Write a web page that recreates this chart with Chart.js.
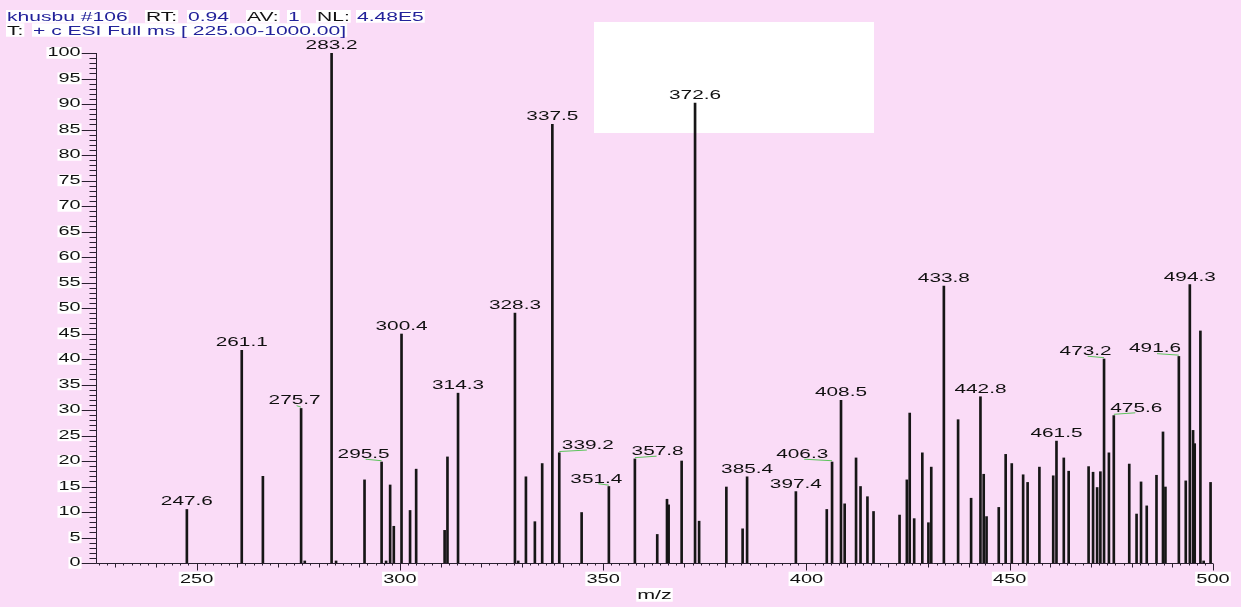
<!DOCTYPE html>
<html>
<head>
<meta charset="utf-8">
<script src="https://cdn.jsdelivr.net/npm/chart.js@4.4.1/dist/chart.umd.min.js"></script>
<style>
  html, body { margin: 0; padding: 0; background: #fadcf7; }
  #wrap { width: 1241px; height: 607px; }
</style>
</head>
<body>
<div id="wrap"><canvas id="c" width="1241" height="607"></canvas></div>
<script>
// ---- data ----
const mzValues = [
  247.6, 261.1, 266.3, 275.7, 276.6, 283.2, 284.3, 291.3, 295.5, 296.6,
  297.6, 298.5, 300.4, 302.5, 304.0, 311.0, 311.7, 314.3, 328.3, 329.1,
  331.0, 333.2, 335.0, 337.5, 339.2, 344.7, 351.4, 357.8, 363.3, 365.7,
  366.1, 369.3, 372.6, 373.6, 380.3, 384.3, 385.4, 397.4, 405.0, 406.3,
  408.5, 409.4, 412.2, 413.3, 415.0, 416.5, 422.9, 424.7, 425.4, 426.5,
  428.5, 430.0, 430.7, 433.8, 437.3, 440.5, 442.8, 443.6, 444.3, 447.3,
  449.0, 450.5, 453.3, 454.4, 457.3, 460.7, 461.5, 463.3, 464.5, 469.4,
  470.5, 471.5, 472.3, 473.2, 474.4, 475.6, 479.4, 481.2, 482.3, 483.7,
  486.1, 487.7, 488.3, 491.6, 493.3, 494.3, 495.1, 495.5, 496.9, 497.7,
  499.4
];
const intensities = [
  10.5, 41.7, 17.0, 30.3, 0.4, 100, 0.4, 16.3, 19.8, 0.4,
  15.3, 7.2, 44.9, 10.3, 18.4, 6.4, 20.8, 33.3, 49.0, 0.4,
  16.9, 8.1, 19.5, 86.0, 21.6, 9.9, 15.0, 20.4, 5.6, 12.5,
  11.4, 20.0, 90.2, 8.2, 14.9, 6.7, 16.9, 14.0, 10.5, 19.8,
  31.9, 11.6, 20.6, 15.0, 13.0, 10.1, 9.4, 16.3, 29.4, 8.7,
  21.6, 7.9, 18.8, 54.3, 28.1, 12.7, 32.6, 17.4, 9.1, 10.9,
  21.3, 19.5, 17.3, 15.8, 18.8, 17.1, 23.9, 20.6, 18.0, 18.9,
  17.8, 14.8, 17.9, 40.0, 21.6, 28.9, 19.4, 9.6, 15.9, 11.2,
  17.2, 25.7, 14.9, 40.5, 16.1, 54.6, 26.0, 23.4, 45.5, 0.4,
  15.8
];
const labeledPeaks = [
  247.6, 261.1, 275.7, 283.2, 295.5, 300.4, 314.3, 328.3, 337.5, 339.2,
  351.4, 357.8, 372.6, 385.4, 397.4, 406.3, 408.5, 433.8, 442.8, 461.5,
  473.2, 475.6, 491.6, 494.3
];
const xTickLabels = [250, 300, 350, 400, 450, 500];
const yTickLabels = [0, 5, 10, 15, 20, 25, 30, 35, 40, 45, 50, 55, 60, 65, 70, 75, 80, 85, 90, 95, 100];
const headerLine1 = [
  ['khusbu #106', 'blue'], ['RT:', 'black'], ['0.94', 'blue'], ['AV:', 'black'],
  ['1', 'blue'], ['NL:', 'black'], ['4.48E5', 'blue']
];
const headerLine2 = [['T:', 'black'], ['+ c ESI Full ms [ 225.00-1000.00]', 'blue']];
const xAxisTitle = 'm/z';

// ---- layout / style (not data) ----
const labelShiftPx = { '275.7': -6.5, '295.5': -18, '339.2': 28.6, '351.4': -12.5, '357.8': 22.7,
  '406.3': -29.8, '473.2': -18.4, '475.6': 22.5, '491.6': -23.8 };
const header1X = [7, 146, 188, 247, 288, 317, 357];
const header2X = [7, 33];
const COLORS = { bg: '#fadcf7', blue: '#22229a', black: '#111111', bar: '#161616', green: '#5cc45c', axis: '#2a2030' };
const FONT = '"Liberation Sans", Arial, sans-serif';
const SX = 1.6;

function sText(ctx, str, x, y, size, sx, align, baseline, color, backdrop) {
  ctx.save();
  ctx.font = size + 'px ' + FONT;
  const w = ctx.measureText(str).width * sx;
  const left = align === 'center' ? x - w / 2 : (align === 'right' ? x - w : x);
  if (backdrop) {
    ctx.fillStyle = '#ffffff';
    ctx.fillRect(left - backdrop.px, backdrop.top, w + 2 * backdrop.px, backdrop.h);
  }
  ctx.translate(left, y);
  ctx.scale(sx, 1);
  ctx.textAlign = 'left';
  ctx.textBaseline = baseline;
  ctx.fillStyle = color;
  ctx.fillText(str, 0, 0);
  ctx.restore();
  return w;
}

const decor = {
  id: 'decor',
  beforeDraw(chart) {
    const ctx = chart.ctx;
    ctx.save();
    ctx.fillStyle = COLORS.bg;
    ctx.fillRect(0, 0, chart.width, chart.height);
    ctx.restore();
  },
  beforeDatasetsDraw(chart) {
    const ctx = chart.ctx;
    ctx.save();
    ctx.fillStyle = '#ffffff';
    ctx.fillRect(594, 22, 280, 111);
    ctx.restore();
  },
  afterDraw(chart) {
    const ctx = chart.ctx;
    const xs = chart.scales.x, ys = chart.scales.y;
    const ca = chart.chartArea;
    const y0 = ys.getPixelForValue(0);
    const axX = ca.left + 0.5;
    ctx.save();
    ctx.strokeStyle = COLORS.axis;
    ctx.lineWidth = 1;
    // y axis line + ticks
    ctx.beginPath();
    ctx.moveTo(axX, ys.getPixelForValue(100));
    ctx.lineTo(axX, y0 + 0.5);
    for (let v = 0; v <= 100; v++) {
      const py = Math.round(ys.getPixelForValue(v)) + 0.5;
      const len = (v % 5 === 0) ? 15 : 7;
      ctx.moveTo(axX - len, py);
      ctx.lineTo(axX, py);
    }
    // x axis line + ticks
    ctx.moveTo(axX, Math.round(y0) + 0.5);
    ctx.lineTo(ca.right, Math.round(y0) + 0.5);
    for (let v = Math.ceil(xs.min / 2) * 2; v <= xs.max; v += 2) {
      const px = Math.round(xs.getPixelForValue(v)) + 0.5;
      const len = (v % 50 === 0) ? 7 : (v % 10 === 0 ? 4 : 2);
      ctx.moveTo(px, Math.round(y0) + 0.5);
      ctx.lineTo(px, Math.round(y0) + 0.5 + len);
    }
    ctx.stroke();
    ctx.restore();

    // y tick labels
    yTickLabels.forEach(v => {
      const py = ys.getPixelForValue(v);
      sText(ctx, String(v), axX - 16, py, 12, 1.65, 'right', 'middle', COLORS.black,
        { px: 1, top: py - 6, h: 11.7 });
    });
    // x tick labels
    xTickLabels.forEach(v => {
      const px = xs.getPixelForValue(v);
      sText(ctx, String(v), px, 579, 13.5, 1.48, 'center', 'middle', COLORS.black,
        { px: 1.2, top: 571.7, h: 14.3 });
    });
    // axis title
    sText(ctx, xAxisTitle, (ca.left + ca.right) / 2, 595, 13, 1.65, 'center', 'middle', COLORS.black,
      { px: 1, top: 588, h: 13.7 });

    // peak labels
    labeledPeaks.forEach(m => {
      const idx = mzValues.indexOf(m);
      if (idx < 0) return;
      const px = xs.getPixelForValue(m);
      const top = ys.getPixelForValue(intensities[idx]);
      const shift = labelShiftPx[m.toFixed(1)] || 0;
      const cx = px + shift;
      const base = top - 4;
      if (shift !== 0) {
        ctx.save();
        ctx.strokeStyle = COLORS.green;
        ctx.lineWidth = 1;
        ctx.beginPath();
        const lx = shift < 0 ? cx + 2 : cx - 1;
        ctx.moveTo(lx, base + 1.2);
        ctx.lineTo(px, top - 1.3);
        ctx.stroke();
        ctx.restore();
      }
      sText(ctx, m.toFixed(1), cx, base, 13, SX, 'center', 'alphabetic', COLORS.black, null);
    });

    // header
    headerLine1.forEach((t, i) => {
      sText(ctx, t[0], header1X[i], 21, 13, 1.62, 'left', 'alphabetic',
        t[1] === 'blue' ? COLORS.blue : COLORS.black, { px: 1, top: 10, h: 12.7 });
    });
    headerLine2.forEach((t, i) => {
      sText(ctx, t[0], header2X[i], 35, 13, 1.62, 'left', 'alphabetic',
        t[1] === 'blue' ? COLORS.blue : COLORS.black, { px: 1, top: 23.3, h: 13.4 });
    });
  }
};

new Chart(document.getElementById('c'), {
  type: 'bar',
  data: {
    datasets: [{
      data: mzValues.map((m, i) => ({ x: m, y: intensities[i] })),
      backgroundColor: COLORS.bar,
      borderWidth: 0,
      barThickness: 2
    }]
  },
  options: {
    responsive: false,
    animation: false,
    devicePixelRatio: 1,
    layout: { padding: { top: 53, right: 28, left: 0, bottom: 0 } },
    plugins: { legend: { display: false }, tooltip: { enabled: false } },
    scales: {
      x: {
        type: 'linear', min: 225.25, max: 500, offset: false,
        grid: { display: false }, border: { display: false },
        ticks: { display: false },
        afterFit: s => { s.height = 44; }
      },
      y: {
        min: 0, max: 100,
        grid: { display: false }, border: { display: false },
        ticks: { display: false, stepSize: 5 },
        afterFit: s => { s.width = 96; }
      }
    }
  },
  plugins: [decor]
});
</script>
</body>
</html>
